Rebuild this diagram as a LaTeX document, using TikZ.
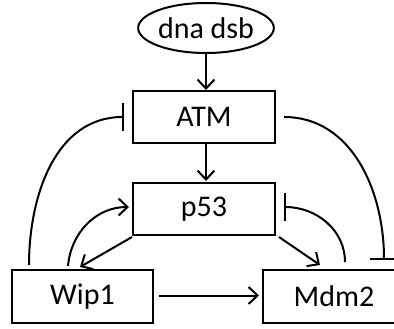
\documentclass[tikz,border=0pt]{standalone}
\usepackage{fontspec}
\setmainfont{Carlito}
\usetikzlibrary{arrows.meta,shapes.geometric}

\begin{document}
\begin{tikzpicture}[x=1pt,y=1pt,line width=2pt,
		box/.style={draw,rectangle,inner sep=0pt,minimum width=142pt,minimum height=53pt,font=\fontsize{30}{36}\selectfont},
		act/.style={-{Straight Barb[length=9pt,width=17pt]}},
		inh/.style={-{Bar[width=28pt]}}]
				\useasboundingbox (0,0) rectangle (394,-329);
				\node [draw,ellipse,inner sep=0pt,minimum width=122pt,minimum height=50pt,font=\fontsize{30}{36}\selectfont] (dsb) at (206,-28) {dna dsb};
				\node [box,minimum height=52pt] (atm) at (204,-117) {ATM};
				\node [box,minimum height=52pt] (p53) at (204,-209) {p53};
				\node [box,minimum width=141pt] (wip) at (82.5,-296.5) {Wip1};
				\node [box] (mdm) at (334,-296.5) {Mdm2};
				\draw [act] (dsb.south -| 206,0) -- (atm.north -| 206,0);
				\draw [act] (atm.south -| 206,0) -- ([yshift=1pt]p53.north -| 206,0);
				\draw [act] ([shift={(5,1)}]wip.east) -- ([shift={(-3,1)}]mdm.west);
				\draw [act] ([shift={(0,-1)}]p53.south west) -- ([shift={(-10,2)}]wip.north east -| 90,0);
				\draw [act] ([shift={(3,-1)}]p53.south east) -- ([shift={(-15,4)}]mdm.north west -| 335,0);
				\draw [act] ([shift={(-7,3)}]wip.north -| 75,0) to [out=85,in=180] ([shift={(-3,2)}]p53.west);
				\draw [inh] ([shift={(18,4)}]wip.north west) to [out=90,in=180] ([shift={(-8,0)}]atm.west);
				\draw [inh] ([yshift=7pt]mdm.north -| 345,0) to [out=90,in=0] ([shift={(8,2)}]p53.east);
				\draw [inh] ([shift={(8,0)}]atm.east) to [out=0,in=90] ([yshift=9pt]mdm.north -| 384,0);
			\end{tikzpicture}
\end{document}
